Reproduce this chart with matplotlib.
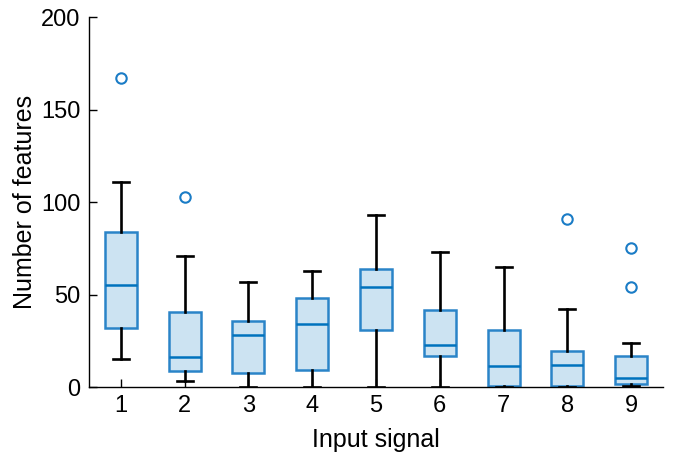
import matplotlib
matplotlib.use('Agg')
import matplotlib.pyplot as plt

plt.rcParams['font.family'] = ['Liberation Sans', 'DejaVu Sans']

# values
signals = [1, 2, 3, 4, 5, 6, 7, 8, 9]
whis_lo = [15, 3, 0, 0, 0, 0, 0, 0, 0.5]
q1 = [32, 8.6, 7.6, 9.2, 31, 17, 0.7, 0.7, 1.4]
medians = [55, 16.4, 28, 34, 54.2, 22.5, 11.5, 12, 5]
q3 = [83.6, 40.5, 35.5, 48, 64, 41.6, 31, 19.6, 17]
whis_hi = [111, 71, 57, 63, 93, 73, 65, 42, 24]
outliers = [[167], [103], [], [], [], [], [], [91], [75, 54.2]]

blue = '#0072BD'

stats = []
for i in range(len(signals)):
    stats.append({'label': str(signals[i]), 'whislo': whis_lo[i], 'q1': q1[i],
                  'med': medians[i], 'q3': q3[i], 'whishi': whis_hi[i],
                  'fliers': outliers[i]})

fig = plt.figure(figsize=(6.73, 4.62), dpi=100)
ax = fig.add_axes([0.1322, 0.1623, 0.853, 0.8003])

ax.bxp(stats, positions=signals, widths=0.5, patch_artist=True,
       boxprops=dict(facecolor='#cce3f2', edgecolor='#2a84c8', linewidth=1.8),
       medianprops=dict(color=blue, linewidth=1.8),
       whiskerprops=dict(color='black', linewidth=1.9),
       capprops=dict(color='black', linewidth=1.9),
       capwidths=0.25,
       flierprops=dict(marker='o', markerfacecolor='none', markeredgecolor='#1a7cc6',
                       markersize=7.5, markeredgewidth=1.5))

ax.set_xlim(0.5, 9.5)
ax.set_ylim(0, 200)
ax.set_yticks([0, 50, 100, 150, 200])
ax.set_xticks(signals)
ax.set_xticklabels([str(s) for s in signals])
ax.spines['top'].set_visible(False)
ax.spines['right'].set_visible(False)
ax.spines['left'].set_linewidth(1.0)
ax.spines['bottom'].set_linewidth(1.0)
ax.tick_params(direction='in', length=6, width=1.0, labelsize=17, pad=6)
ax.set_xlabel('Input signal', fontsize=18, labelpad=8)
ax.set_ylabel('Number of features', fontsize=18, labelpad=3)

fig.savefig('out.png', dpi=100)
